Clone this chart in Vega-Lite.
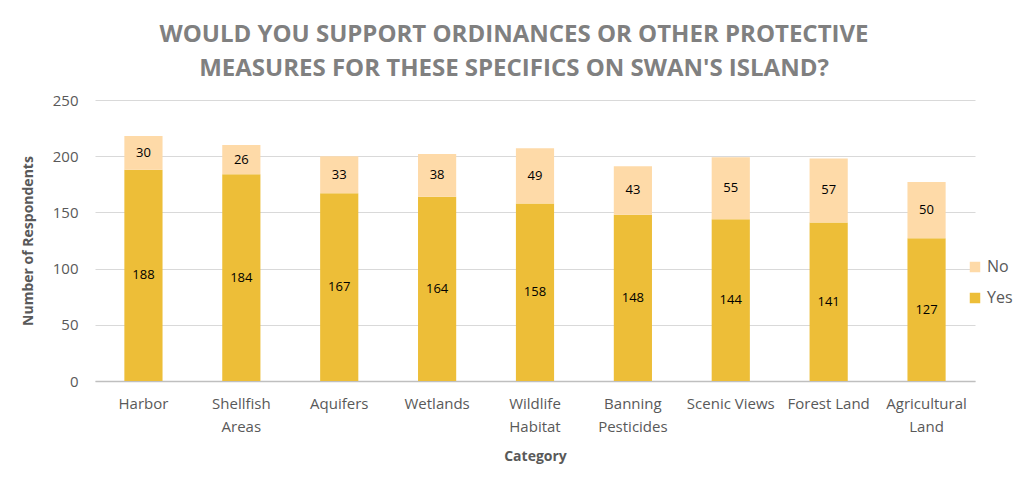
{
  "$schema": "https://vega.github.io/schema/vega-lite/v6.json",
  "autosize": {"type": "none"},
  "padding": {"left": 95, "top": 100, "right": 41, "bottom": 102},
  "width": 880,
  "height": 281,
  "background": "white",
  "title": {
    "text": ["WOULD YOU SUPPORT ORDINANCES OR OTHER PROTECTIVE", "MEASURES FOR THESE SPECIFICS ON SWAN'S ISLAND?"],
    "anchor": "middle",
    "frame": "group",
    "dx": -21,
    "offset": 12,
    "font": "Open Sans",
    "fontSize": 24,
    "fontWeight": "bold",
    "color": "#808080",
    "lineHeight": 34
  },
  "data": {
    "values": [
      {"category": "Harbor", "answer": "Yes", "count": 188},
      {"category": "Harbor", "answer": "No", "count": 30},
      {"category": "Shellfish Areas", "answer": "Yes", "count": 184},
      {"category": "Shellfish Areas", "answer": "No", "count": 26},
      {"category": "Aquifers", "answer": "Yes", "count": 167},
      {"category": "Aquifers", "answer": "No", "count": 33},
      {"category": "Wetlands", "answer": "Yes", "count": 164},
      {"category": "Wetlands", "answer": "No", "count": 38},
      {"category": "Wildlife Habitat", "answer": "Yes", "count": 158},
      {"category": "Wildlife Habitat", "answer": "No", "count": 49},
      {"category": "Banning Pesticides", "answer": "Yes", "count": 148},
      {"category": "Banning Pesticides", "answer": "No", "count": 43},
      {"category": "Scenic Views", "answer": "Yes", "count": 144},
      {"category": "Scenic Views", "answer": "No", "count": 55},
      {"category": "Forest Land", "answer": "Yes", "count": 141},
      {"category": "Forest Land", "answer": "No", "count": 57},
      {"category": "Agricultural Land", "answer": "Yes", "count": 127},
      {"category": "Agricultural Land", "answer": "No", "count": 50}
    ]
  },
  "transform": [
    {"calculate": "datum.answer == 'Yes' ? 0 : 1", "as": "ord"},
    {"stack": "count", "groupby": ["category"], "sort": [{"field": "ord", "order": "ascending"}], "as": ["y0", "y1"]},
    {"calculate": "(datum.y0 + datum.y1) / 2", "as": "ymid"}
  ],
  "encoding": {
    "x": {
      "field": "category",
      "type": "nominal",
      "sort": null,
      "title": "Category",
      "scale": {"paddingInner": 0.61, "paddingOuter": 0.3},
      "axis": {
        "labelAngle": 0,
        "labelExpr": "length(datum.label) > 12 ? split(datum.label, ' ') : datum.label",
        "labelPadding": 15,
        "labelLineHeight": 23,
        "ticks": false,
        "domainColor": "#BFBFBF",
        "domainWidth": 1.5,
        "titlePadding": 15
      }
    }
  },
  "layer": [
    {
      "mark": {"type": "bar"},
      "encoding": {
        "y": {
          "field": "y0",
          "type": "quantitative",
          "title": "Number of Respondents",
          "scale": {"domain": [0, 250], "nice": false},
          "axis": {"values": [0, 50, 100, 150, 200, 250], "ticks": false, "domain": false, "labelPadding": 17, "titlePadding": 17}
        },
        "y2": {"field": "y1"},
        "color": {
          "field": "answer",
          "type": "nominal",
          "scale": {"domain": ["No", "Yes"], "range": ["#FEDAA8", "#EDBE38"]},
          "legend": {"title": null, "orient": "none", "legendX": 872, "legendY": 159, "rowPadding": 15, "symbolType": "square", "symbolSize": 110, "symbolStrokeWidth": 0, "labelFontSize": 16}
        }
      }
    },
    {
      "mark": {"type": "text", "fontSize": 13, "color": "#000000", "font": "Open Sans"},
      "encoding": {
        "y": {"field": "ymid", "type": "quantitative"},
        "text": {"field": "count", "type": "quantitative"}
      }
    }
  ],
  "config": {
    "font": "Open Sans",
    "view": {"stroke": null},
    "axis": {
      "labelFont": "Open Sans",
      "labelFontSize": 15,
      "labelColor": "#595959",
      "titleFont": "Open Sans",
      "titleFontSize": 14,
      "titleFontWeight": "bold",
      "titleColor": "#595959",
      "gridColor": "#D9D9D9",
      "gridWidth": 1
    },
    "axisX": {"grid": false},
    "legend": {"labelFont": "Open Sans", "labelColor": "#595959"}
  }
}
